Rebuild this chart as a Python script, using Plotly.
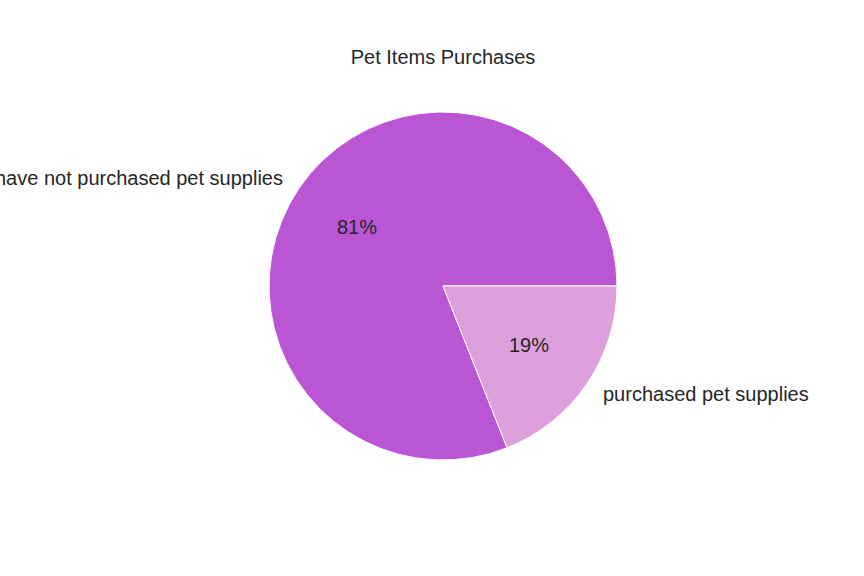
import math
import plotly.graph_objects as go

labels = ["have not purchased pet supplies", "purchased pet supplies"]
values = [81, 19]
colors = ["#BA55D3", "#DDA0DD"]
title = "Pet Items Purchases"

W, H = 864, 576
cx, cy, r = 443, 290, 174  # pie center (px from left, px from bottom), radius px
font = dict(family="Liberation Sans, Arial, sans-serif", size=20, color="#262626")

total = sum(values)
# first wedge starts at 3 o'clock and runs counterclockwise (matplotlib default)
rotation = 90 + 360 * (total - values[0]) / total

fig = go.Figure(go.Pie(
    labels=labels, values=values, sort=False, direction="counterclockwise",
    rotation=rotation, textinfo="none", hoverinfo="label+percent",
    marker=dict(colors=colors, line=dict(color="white", width=1)),
    domain=dict(x=[(cx - r) / W, (cx + r) / W], y=[(cy - r) / H, (cy + r) / H]),
    showlegend=False,
))

start = 0.0
annotations = []
for lab, v in zip(labels, values):
    frac = v / total
    mid = 2 * math.pi * (start + frac / 2)
    start += frac
    c, s = math.cos(mid), math.sin(mid)
    lx, ly = cx + 1.1 * r * c, cy + 1.1 * r * s
    px, py = cx + 0.6 * r * c, cy + 0.6 * r * s
    annotations.append(dict(x=lx / W, y=ly / H, xref="paper", yref="paper", text=lab,
                            showarrow=False, xanchor="left" if c > 0 else "right",
                            yanchor="middle", font=font))
    annotations.append(dict(x=px / W, y=py / H, xref="paper", yref="paper",
                            text=f"{round(frac * 100):.0f}%", showarrow=False,
                            xanchor="center", yanchor="middle", font=font))

fig.update_layout(
    width=W, height=H, margin=dict(l=0, r=0, t=0, b=0),
    paper_bgcolor="white", plot_bgcolor="white",
    title=dict(text=title, x=443 / W, y=(H - 57) / H, xanchor="center", yanchor="middle", font=font),
    annotations=annotations,
)
fig.write_html("out.html")
